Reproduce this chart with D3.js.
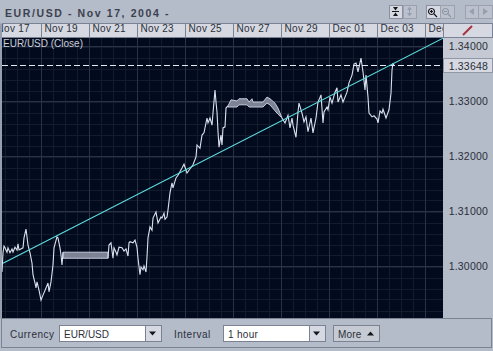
<!DOCTYPE html>
<html>
<head>
<meta charset="utf-8">
<script src="https://d3js.org/d3.v7.min.js"></script>
<style>
  html, body { margin: 0; padding: 0; background: #b4bbc9; overflow: hidden; }
  svg { display: block; }
  text { font-family: "Liberation Sans", Arial, sans-serif; }
</style>
</head>
<body>
<svg id="area" width="493" height="351"></svg>
<script>
// hours since Nov 17 2004 00:00
const startDate = Date.UTC(2004, 10, 17);

const hoursA = [9, 10, 11, 12, 14, 15, 17, 19, 20, 22, 24, 25, 26, 30, 31, 33, 34, 35, 37, 39, 40, 42, 43, 44, 46, 48, 50, 53, 55, 56, 58, 60, 61, 64, 65, 67, 68, 69, 70];
const closeA = [1.2990, 1.3025, 1.3037, 1.3034, 1.3026, 1.3034, 1.3025, 1.3032, 1.3026, 1.3035, 1.3030, 1.3041, 1.3030, 1.3034, 1.3052, 1.3068, 1.3054, 1.3039, 1.3025, 1.3006, 1.2985, 1.2970, 1.2961, 1.2972, 1.2957, 1.2939, 1.2948, 1.2961, 1.2970, 1.2954, 1.2972, 1.3003, 1.3034, 1.3054, 1.3052, 1.3034, 1.3021, 1.3003, 1.3026];

// thin market stretches, the line just flickers between two levels
const band1Hours = [70, 115];
const band1High = [1.3026, 1.3026];
const band1Low = [1.3015, 1.3015];

const hoursB = [115, 116, 118, 120, 121, 123, 124, 126, 129, 131, 133, 135, 136, 137, 140, 142, 144, 145, 147, 148, 150, 151, 153, 154, 155, 157, 159, 160, 163, 165, 168, 169, 171, 172, 174, 175, 177, 179, 180, 183, 185, 189, 191, 194, 196, 200, 203, 204, 207, 209, 211, 214, 215, 217, 219, 220, 222, 223, 224, 225, 226, 228, 229, 230, 232, 233, 235];
const closeB = [1.3015, 1.3039, 1.3043, 1.3015, 1.3034, 1.3026, 1.3021, 1.3035, 1.3034, 1.3028, 1.3032, 1.3019, 1.3043, 1.3045, 1.3043, 1.3048, 1.3035, 1.3015, 1.2985, 1.2999, 1.2994, 1.3001, 1.2990, 1.3017, 1.3052, 1.3072, 1.3066, 1.3088, 1.3099, 1.3079, 1.3090, 1.3088, 1.3097, 1.3086, 1.3090, 1.3103, 1.3134, 1.3152, 1.3143, 1.3161, 1.3166, 1.3179, 1.3186, 1.3170, 1.3175, 1.3185, 1.3199, 1.3221, 1.3215, 1.3239, 1.3243, 1.3270, 1.3261, 1.3270, 1.3257, 1.3279, 1.3321, 1.3299, 1.3281, 1.3245, 1.3217, 1.3239, 1.3221, 1.3252, 1.3254, 1.3288, 1.3292];

const band2Hours = [235, 238, 244, 246, 254, 256, 259, 260, 270, 274, 277, 282, 285, 289];
const band2High = [1.3292, 1.3303, 1.3301, 1.3305, 1.3305, 1.3299, 1.3305, 1.3299, 1.3299, 1.3308, 1.3305, 1.3297, 1.3288, 1.3270];
const band2Low = [1.3290, 1.3290, 1.3290, 1.3294, 1.3294, 1.3290, 1.3290, 1.3290, 1.3290, 1.3297, 1.3294, 1.3283, 1.3277, 1.3270];

const hoursC = [289, 292, 295, 297, 299, 300, 303, 305, 306, 309, 311, 313, 315, 318, 320, 323, 325, 326, 328, 330, 331, 334, 335, 337, 339, 342, 344, 345, 348, 350, 352, 354, 356, 359, 361, 363, 365, 368, 370, 372, 373, 375, 376, 379, 381, 384, 385, 387, 389, 390, 393, 396, 398, 399, 400, 401];
const closeC = [1.3270, 1.3261, 1.3275, 1.3252, 1.3270, 1.3257, 1.3235, 1.3281, 1.3297, 1.3279, 1.3263, 1.3272, 1.3245, 1.3270, 1.3243, 1.3270, 1.3299, 1.3303, 1.3312, 1.3261, 1.3281, 1.3290, 1.3285, 1.3308, 1.3297, 1.3317, 1.3325, 1.3299, 1.3312, 1.3299, 1.3308, 1.3317, 1.3334, 1.3348, 1.3368, 1.3370, 1.3354, 1.3379, 1.3354, 1.3321, 1.3348, 1.3308, 1.3279, 1.3272, 1.3274, 1.3268, 1.3261, 1.3283, 1.3279, 1.3286, 1.3270, 1.3285, 1.3315, 1.3357, 1.3370, 1.33648];

const trendHours = [10, 450];
const trendValues = [1.3006, 1.3415];

const lastClose = 1.33648;
const priceTicks = [1.30, 1.31, 1.32, 1.33, 1.34];
const minorPriceTicks = d3.range(1.288, 1.348, 0.002);
const dateTicks = d3.range(0, 10).map((i) => new Date(startDate + i * 2 * 864e5));

const panel = '#b4bbc9';
const tabFill = '#d6d9e1';
const edge = '#7b8293';
const darkText = '#2b2f3a';

const plot = { left: 2, right: 443, top: 38, bottom: 318 };

const svg = d3.select('#area');
const toDate = (h) => new Date(startDate + h * 36e5);

const x = d3.scaleUtc()
  .domain([new Date(startDate), new Date(startDate + 18 * 864e5)])
  .range([-7, 425]);
const y = d3.scaleLinear()
  .domain([1.30, 1.34])
  .range([266.5, 46.5]);

// outer panel
svg.append('rect').attr('width', 493).attr('height', 351).attr('fill', panel);

svg.append('text')
  .attr('x', 5).attr('y', 17)
  .attr('font-size', 10.5)
  .attr('font-weight', 'bold')
  .attr('letter-spacing', 1.6)
  .attr('fill', '#3c414e')
  .text('EUR/USD - Nov 17, 2004 -');

// plot background and clip
const defs = svg.append('defs');
defs.append('clipPath').attr('id', 'plotClip').append('rect')
  .attr('x', plot.left).attr('y', plot.top)
  .attr('width', plot.right - plot.left).attr('height', plot.bottom - plot.top);
defs.append('clipPath').attr('id', 'tabClip').append('rect')
  .attr('x', plot.left).attr('y', 23)
  .attr('width', plot.right - plot.left).attr('height', 16);

svg.append('rect')
  .attr('x', plot.left).attr('y', plot.top)
  .attr('width', plot.right - plot.left).attr('height', plot.bottom - plot.top)
  .attr('fill', '#020b1e');

const chart = svg.append('g').attr('clip-path', 'url(#plotClip)');

// grid
const minorHours = d3.range(0, 18 * 24, 12).map(toDate);
chart.append('g').selectAll('line')
  .data(minorHours)
  .enter().append('line')
  .attr('x1', (d) => x(d) + 0.5).attr('x2', (d) => x(d) + 0.5)
  .attr('y1', plot.top).attr('y2', plot.bottom)
  .attr('stroke', '#131b2d');
chart.append('g').selectAll('line')
  .data(minorPriceTicks)
  .enter().append('line')
  .attr('x1', plot.left).attr('x2', plot.right)
  .attr('y1', (d) => Math.round(y(d)) + 0.5).attr('y2', (d) => Math.round(y(d)) + 0.5)
  .attr('stroke', '#131b2d');
chart.append('g').selectAll('line')
  .data(dateTicks)
  .enter().append('line')
  .attr('x1', (d) => x(d) + 0.5).attr('x2', (d) => x(d) + 0.5)
  .attr('y1', plot.top).attr('y2', plot.bottom)
  .attr('stroke', '#2a3346');
chart.append('g').selectAll('line')
  .data(priceTicks)
  .enter().append('line')
  .attr('x1', plot.left).attr('x2', plot.right)
  .attr('y1', (d) => y(d)).attr('y2', (d) => y(d))
  .attr('stroke', '#2a3346');

// close
const line = d3.line()
  .x((d) => x(toDate(d[0])))
  .y((d) => y(d[1]));
const area = d3.area()
  .x((d) => x(toDate(d[0])))
  .y0((d) => y(d[2]))
  .y1((d) => y(d[1]));

[[band1Hours, band1High, band1Low], [band2Hours, band2High, band2Low]].forEach(([h, hi, lo]) => {
  chart.append('path')
    .datum(h.map((d, i) => [d, hi[i], lo[i]]))
    .attr('d', area)
    .attr('fill', '#7d8294')
    .attr('stroke', '#c3c9d8')
    .attr('stroke-width', 1);
});

[[hoursA, closeA], [hoursB, closeB], [hoursC, closeC]].forEach(([h, c]) => {
  chart.append('path')
    .datum(h.map((d, i) => [d, c[i]]))
    .attr('d', line)
    .attr('fill', 'none')
    .attr('stroke', '#dbe1ee')
    .attr('stroke-width', 1.1);
});

// last close marker
chart.append('line')
  .attr('x1', plot.left).attr('x2', plot.right)
  .attr('y1', Math.floor(y(lastClose)) + 0.5).attr('y2', Math.floor(y(lastClose)) + 0.5)
  .attr('stroke', '#e4e8f0')
  .attr('stroke-dasharray', '6,3');

// trend line
chart.append('path')
  .datum(trendHours.map((d, i) => [d, trendValues[i]]))
  .attr('d', line)
  .attr('fill', 'none')
  .attr('stroke', '#5fdde0')
  .attr('stroke-width', 1.1);

chart.append('text')
  .attr('x', 3).attr('y', 47)
  .attr('font-size', 10)
  .attr('fill', '#c9cdd8')
  .text('EUR/USD (Close)');

// date tabs
const tabs = svg.append('g').attr('clip-path', 'url(#tabClip)');
tabs.selectAll('rect')
  .data(dateTicks)
  .enter().append('rect')
  .attr('x', (d) => x(d) + 0.5).attr('y', 23.5)
  .attr('width', 48).attr('height', 14)
  .attr('fill', tabFill)
  .attr('stroke', edge);
const xAxis = d3.axisTop(x)
  .tickValues(dateTicks)
  .tickSize(0)
  .tickFormat(d3.utcFormat('%b %d'));
tabs.append('g')
  .attr('transform', 'translate(0,37)')
  .call(xAxis)
  .call((g) => g.select('.domain').remove())
  .selectAll('text')
  .attr('text-anchor', 'start')
  .attr('dx', 3)
  .attr('dy', '-0.25em')
  .attr('font-size', 10)
  .attr('letter-spacing', 0.3)
  .attr('font-family', '"Liberation Sans", Arial, sans-serif')
  .attr('fill', darkText);

// price panel
svg.append('rect')
  .attr('x', 443.5).attr('y', 23.5).attr('width', 49).attr('height', 14)
  .attr('fill', tabFill).attr('stroke', edge);
svg.append('path')
  .attr('d', 'M463,35L472,26')
  .attr('stroke', '#a8323f').attr('stroke-width', 2);
svg.append('rect')
  .attr('x', 443).attr('y', 38).attr('width', 50).attr('height', 20)
  .attr('fill', '#c4c9d3');
svg.append('rect')
  .attr('x', 443.5).attr('y', 58.5).attr('width', 49).attr('height', 14)
  .attr('fill', tabFill).attr('stroke', '#9097a7');

const yAxis = d3.axisRight(y)
  .tickValues(priceTicks.concat([lastClose]))
  .tickSize(0)
  .tickFormat(d3.format('.5f'));
svg.append('g')
  .attr('transform', 'translate(447,0)')
  .call(yAxis)
  .call((g) => g.select('.domain').remove())
  .selectAll('text')
  .attr('x', 41)
  .attr('text-anchor', 'end')
  .attr('font-size', 10.5)
  .attr('letter-spacing', 0.2)
  .attr('font-family', '"Liberation Sans", Arial, sans-serif')
  .attr('fill', darkText);

// toolbar buttons
const topButtons = [
  { x: 389, w: 13, on: true, fill: '#15171d', glyph: 'M393,7h5l-2.5,3.5zM392,11h7v1h-7zM393,16h5l-2.5,-3.5z' },
  { x: 403, w: 13, on: false, fill: '#989fae', glyph: 'M407,10h5l-2.5,-3.5zM409,10h1v3h-1zM407,13h5l-2.5,3.5z' },
  { x: 426, w: 14, on: true, fill: 'none', glyph: 'M431.5,8.5a3,3 0 1,0 0.01,0M431.5,10V13M430,11.5H433M434,14L437,17' },
  { x: 440, w: 14, on: false, fill: 'none', glyph: 'M445.5,8.5a3,3 0 1,0 0.01,0M444,11.5H447M448,14L451,17' },
  { x: 465, w: 13, on: false, fill: '#989fae', glyph: 'M474,8L469,11.5L474,15Z' },
  { x: 478, w: 14, on: false, fill: '#989fae', glyph: 'M483,8L488,11.5L483,15Z' },
];
const btn = svg.append('g').selectAll('g')
  .data(topButtons)
  .enter().append('g');
btn.append('rect')
  .attr('x', (d) => d.x + 0.5).attr('y', 5.5)
  .attr('width', (d) => d.w).attr('height', 13)
  .attr('fill', (d) => (d.on ? '#d6d9e1' : '#bcc2cd'))
  .attr('stroke', (d) => (d.on ? '#8a90a0' : '#9ba1b0'));
btn.append('path')
  .attr('d', (d) => d.glyph)
  .attr('fill', (d) => d.fill)
  .attr('stroke', (d) => (d.fill === 'none' ? (d.on ? '#15171d' : '#8d93a2') : 'none'))
  .attr('stroke-width', 1.2);

// bottom controls
svg.append('rect')
  .attr('x', 1.5).attr('y', 318.5).attr('width', 490).attr('height', 29)
  .attr('fill', panel).attr('stroke', edge);
svg.append('rect')
  .attr('x', 0.5).attr('y', 23.5).attr('width', 1).attr('height', 295)
  .attr('fill', edge);

const selects = [
  { x: 59, w: 102, label: 'EUR/USD', spacing: 0 },
  { x: 223, w: 102, label: '1 hour', spacing: 0.3 },
];
const sel = svg.append('g').selectAll('g')
  .data(selects)
  .enter().append('g');
sel.append('rect')
  .attr('x', (d) => d.x + 0.5).attr('y', 325.5)
  .attr('width', (d) => d.w).attr('height', 16)
  .attr('fill', '#fff').attr('stroke', edge);
sel.append('rect')
  .attr('x', (d) => d.x + d.w - 16 + 0.5).attr('y', 325.5)
  .attr('width', 16).attr('height', 16)
  .attr('fill', tabFill).attr('stroke', edge);
sel.append('path')
  .attr('d', (d) => `M${d.x + d.w - 12},331.5h7l-3.5,4z`)
  .attr('fill', '#15171d');
sel.append('text')
  .attr('x', (d) => d.x + 5).attr('y', 337.5)
  .attr('font-size', 10)
  .attr('letter-spacing', (d) => d.spacing)
  .attr('fill', darkText)
  .text((d) => d.label);

const labels = [
  { x: 10, label: 'Currency' },
  { x: 174, label: 'Interval' },
];
svg.append('g').selectAll('text')
  .data(labels)
  .enter().append('text')
  .attr('x', (d) => d.x).attr('y', 337.5)
  .attr('font-size', 10)
  .attr('letter-spacing', 0.5)
  .attr('fill', darkText)
  .text((d) => d.label);

svg.append('rect')
  .attr('x', 333.5).attr('y', 325.5).attr('width', 46).attr('height', 16)
  .attr('fill', '#c6cad3').attr('stroke', edge);
svg.append('text')
  .attr('x', 338).attr('y', 337.5)
  .attr('font-size', 10)
  .attr('letter-spacing', 0.2)
  .attr('fill', darkText)
  .text('More');
svg.append('path')
  .attr('d', 'M367,335.5h7l-3.5,-4z')
  .attr('fill', '#15171d');
</script>
</body>
</html>
